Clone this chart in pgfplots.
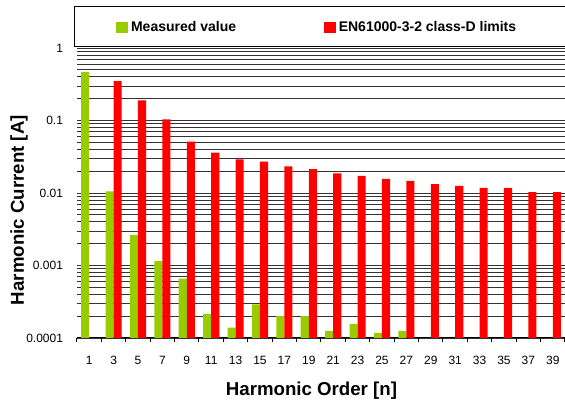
\documentclass[border=0pt]{standalone}
\usepackage{pgfplots}
\pgfplotsset{compat=1.18}
\usepackage{fontspec}
\setmainfont{Liberation Sans}
\definecolor{mgreen}{RGB}{153,204,0}
\definecolor{mred}{RGB}{255,0,0}
\begin{document}
\begin{tikzpicture}
\useasboundingbox (0,0) rectangle (423.75pt,304.5pt);
\begin{axis}[
  at={(57.75pt,51pt)}, anchor=south west,
  scale only axis, width=366pt, height=217.5pt,
  ymode=log, ymin=0.0001, ymax=1, log origin y=infty,
  xmin=-0.5, xmax=19.5,
  ybar, bar width=0.33,
  axis x line*=bottom, axis y line*=left,
  y axis line style={draw=none},
  x axis line style={line width=0.75pt, -},
  major tick length=0pt, minor tick length=0pt,
  xtick={0,...,19},
  xticklabels={1,3,5,7,9,11,13,15,17,19,21,23,25,27,29,31,33,35,37,39},
  extra x ticks={-0.5,0.5,1.5,2.5,3.5,4.5,5.5,6.5,7.5,8.5,9.5,10.5,11.5,12.5,13.5,14.5,15.5,16.5,17.5,18.5,19.5},
  extra x tick labels={},
  extra x tick style={major tick length=3pt, tick align=outside, grid=none, tick style={line width=0.75pt, black}},
  ytick={0.0001,0.001,0.01,0.1,1},
  yticklabels={0.0001,0.001,0.01,0.1,1},
  minor ytick={0.0002,0.0003,0.0004,0.0005,0.0006,0.0007,0.0008,0.0009,
               0.002,0.003,0.004,0.005,0.006,0.007,0.008,0.009,
               0.02,0.03,0.04,0.05,0.06,0.07,0.08,0.09,
               0.2,0.3,0.4,0.5,0.6,0.7,0.8,0.9},
  ymajorgrids, yminorgrids,
  major grid style={black!80, line width=0.6pt},
  minor grid style={black!80, line width=0.6pt},
  tick label style={font=\fontsize{9}{10}\selectfont},
  yticklabel style={xshift=-7pt},
  xticklabel style={yshift=-10pt},
  xlabel={Harmonic Order [n]},
  ylabel={Harmonic Current [A]},
  label style={font=\fontsize{14}{16}\selectfont\bfseries},
  xlabel style={at={(axis description cs:0.4805,-0.183)}, anchor=center},
  ylabel style={at={(axis description cs:-0.119,0.441)}, anchor=center},
  legend style={draw=none, fill=none, at={(0.072,1.0707)}, anchor=west,
    font=\fontsize{10.5}{12}\selectfont\bfseries,
    /tikz/every even column/.append style={column sep=64pt}},
  legend columns=2,
  legend image code/.code={\fill[#1,draw=none] (0pt,-4.1pt) rectangle (9pt,4.1pt);},
]
\addplot[fill=mgreen, draw=none, bar shift=-0.165] coordinates {
 (0,0.47) (1,0.0105) (2,0.00264) (3,0.00115) (4,0.00066) (5,0.000215)
 (6,0.000139) (7,0.00029) (8,0.0002) (9,0.0002) (10,0.000125) (11,0.000157)
 (12,0.000118) (13,0.000125)};
\addlegendentry{Measured value}
\addplot[fill=mred, draw=none, bar shift=0.165] coordinates {
 (1,0.35) (2,0.19) (3,0.104) (4,0.051) (5,0.036) (6,0.029) (7,0.027)
 (8,0.0233) (9,0.0213) (10,0.0186) (11,0.0172) (12,0.0157) (13,0.0147)
 (14,0.0133) (15,0.0125) (16,0.0118) (17,0.0118) (18,0.0103) (19,0.0103)};
\addlegendentry{EN61000-3-2 class-D limits}
\end{axis}
\draw[line width=0.75pt] (55.5pt,269.25pt) rectangle (440pt,299.25pt);
\end{tikzpicture}
\end{document}
